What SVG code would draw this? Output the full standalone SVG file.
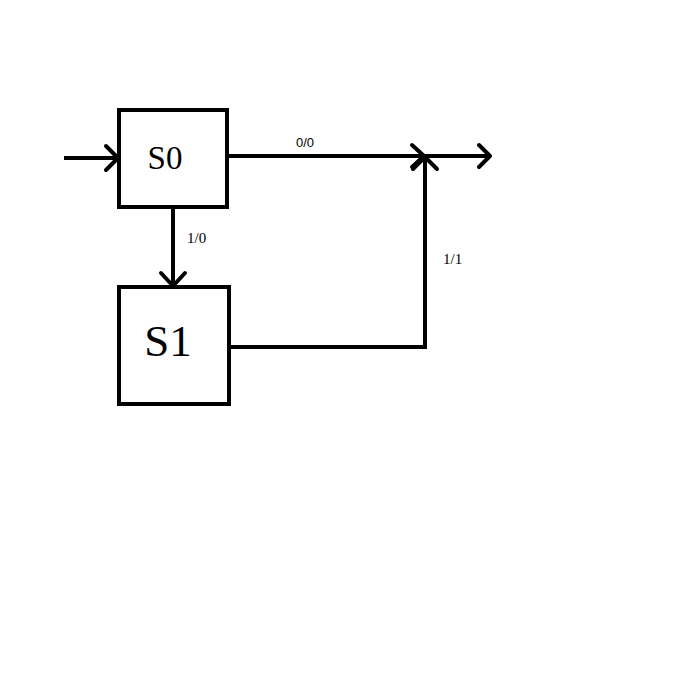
<svg xmlns="http://www.w3.org/2000/svg" width="700" height="700" viewBox="0 0 700 700">
<style>
.box{fill:#fff;stroke:#000;stroke-width:4}
.ln{fill:none;stroke:#000;stroke-width:4}
.ah{fill:none;stroke:#000;stroke-width:4;stroke-linecap:round;stroke-linejoin:round}
.st{font-family:"Liberation Serif",serif;fill:#000}
.lb{font-family:"Liberation Serif",serif;font-size:15px;fill:#000}
.lbs{font-family:"Liberation Sans",sans-serif;font-size:13px;fill:#000}
</style>
<rect width="700" height="700" fill="#fff"/>
<g id="connectors">
<path class="ln" d="M64,158 H118"/>
<path class="ah" d="M106,146 L118,158 L106,170"/>
<path class="ln" d="M227,156 H490"/>
<path class="ah" d="M412,145 L424,156 L412,167"/>
<path class="ah" d="M479,145 L490,156 L479,167"/>
<path class="ln" d="M173,207 V286"/>
<path class="ah" d="M161,273 L173,286 L185,273"/>
<path class="ln" d="M229,347 H425 V156"/>
<path class="ah" d="M413,169 L425,157 L437,169"/>
<text class="lbs" x="296" y="147">0/0</text>
<text class="lb" x="187" y="243">1/0</text>
<text class="lb" x="443" y="264">1/1</text>
</g>
<g id="S0">
<rect class="box" x="119" y="110" width="108" height="97"/>
<text class="st" x="165" y="169" font-size="33" text-anchor="middle">S0</text>
</g>
<g id="S1">
<rect class="box" x="119" y="287" width="110" height="117"/>
<text class="st" x="168" y="356" font-size="45" text-anchor="middle">S1</text>
</g>
</svg>
